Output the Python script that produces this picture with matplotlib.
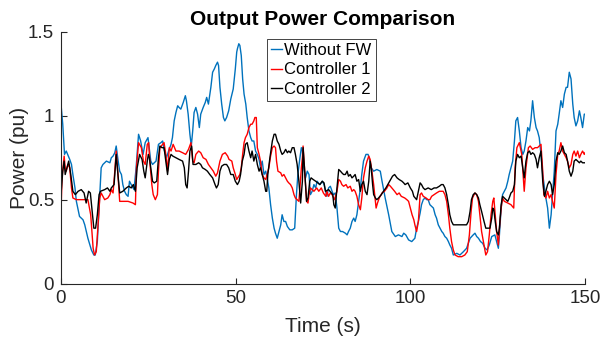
import matplotlib
matplotlib.use("Agg")
import matplotlib.pyplot as plt

# ---------------- data ----------------
t_blue = [0, 0.5, 1.0, 1.5, 2.5, 3.0, 3.4, 4.0, 4.4, 4.9, 5.3, 6.3, 6.8, 7.7, 8.7, 9.4, 9.8, 10.4, 11.1, 11.5,
          12.0, 13.0, 14.0, 14.4, 14.9, 15.4, 15.8, 16.3, 16.8, 17.3, 17.7, 18.2, 18.7, 19.2, 19.6, 20.1, 20.9,
          21.5, 22.2, 22.8, 23.5, 24.1, 24.9, 25.7, 26.2, 27.2, 27.9, 28.6, 29.1, 29.5, 30.2, 30.8, 31.5, 31.9,
          32.4, 32.9, 33.4, 33.8, 34.3, 35.0, 35.6, 35.9, 36.4, 36.9, 37.3, 37.7, 38.1, 38.6, 39.1, 39.6, 40.0,
          40.7, 41.3, 41.7, 42.2, 42.9, 43.4, 43.9, 44.3, 44.8, 45.1, 45.5, 46.0, 46.5, 46.9, 47.4, 48.0, 48.6,
          49.3, 49.9, 50.3, 50.5, 50.9, 51.2, 51.6, 52.0, 52.4, 52.9, 53.3, 53.8, 54.3, 54.7, 55.2, 55.7, 56.2,
          56.7, 57.1, 57.6, 58.1, 58.6, 59.0, 59.5, 60.0, 60.5, 61.0, 61.4, 61.9, 62.4, 62.9, 63.3, 63.8, 64.3,
          64.8, 65.5, 66.2, 66.9, 67.1, 67.4, 67.8, 68.4, 68.8, 69.1, 69.5, 70.0, 70.5, 71.0, 71.4, 71.9, 72.4,
          72.9, 73.3, 74.1, 74.8, 75.3, 76.1, 76.6, 77.1, 77.6, 78.0, 78.5, 79.0, 79.5, 80.0, 80.6, 81.4, 81.9,
          82.3, 82.8, 83.3, 83.8, 84.2, 84.7, 85.2, 85.7, 86.1, 86.6, 87.3, 87.9, 88.2, 88.8, 89.5, 90.4, 91.4,
          91.9, 92.8, 93.8, 94.7, 95.7, 96.6, 97.6, 98.1, 98.7, 99.5, 100.4, 101.3, 101.8, 102.3, 102.8, 103.2,
          103.7, 104.2, 104.7, 105.1, 105.6, 106.1, 106.6, 107.1, 107.5, 108.0, 108.5, 109.0, 109.4, 109.9,
          110.4, 110.9, 111.3, 111.8, 112.3, 113.3, 114.2, 115.2, 116.1, 116.6, 117.1, 118.0, 118.5, 119.0,
          119.5, 120.1, 120.7, 121.4, 122.0, 122.6, 123.3, 124.2, 124.7, 125.2, 125.5, 126.0, 126.4, 126.9,
          127.4, 127.9, 128.3, 128.8, 129.3, 129.8, 130.2, 130.7, 131.2, 131.7, 132.2, 132.6, 133.1, 133.6,
          134.1, 134.5, 135.0, 135.5, 136.0, 136.4, 136.9, 137.4, 137.9, 138.4, 138.8, 139.3, 139.8, 140.3,
          140.7, 141.2, 141.7, 142.2, 142.6, 143.1, 143.6, 144.1, 144.6, 145.0, 145.5, 146.0, 146.5, 146.9,
          147.4, 147.9, 148.4, 148.8, 149.3, 149.8, 150.0]
p_blue = [1.07, 0.95, 0.77, 0.79, 0.74, 0.71, 0.65, 0.57, 0.49, 0.44, 0.40, 0.38, 0.35, 0.27, 0.20, 0.17, 0.17,
          0.25, 0.53, 0.69, 0.71, 0.73, 0.72, 0.75, 0.76, 0.78, 0.82, 0.74, 0.67, 0.65, 0.59, 0.55, 0.53, 0.52,
          0.61, 0.59, 0.56, 0.69, 0.89, 0.85, 0.77, 0.84, 0.87, 0.73, 0.71, 0.73, 0.83, 0.84, 0.85, 0.80, 0.75,
          0.79, 0.83, 0.87, 0.97, 1.02, 1.06, 1.05, 1.04, 1.08, 1.12, 1.09, 1.01, 0.89, 0.82, 0.91, 1.02, 1.05,
          1.01, 0.93, 1.01, 1.05, 1.08, 1.11, 1.07, 1.17, 1.26, 1.28, 1.30, 1.32, 1.30, 1.17, 1.07, 0.99, 0.97,
          0.99, 1.03, 1.10, 1.16, 1.28, 1.38, 1.40, 1.43, 1.42, 1.36, 1.22, 1.13, 1.07, 0.99, 0.91, 0.87, 0.85,
          0.85, 0.79, 0.77, 0.74, 0.69, 0.73, 0.65, 0.67, 0.63, 0.57, 0.47, 0.39, 0.33, 0.30, 0.27, 0.31, 0.35,
          0.41, 0.37, 0.37, 0.34, 0.32, 0.32, 0.33, 0.41, 0.53, 0.65, 0.75, 0.81, 0.79, 0.69, 0.63, 0.67, 0.65,
          0.53, 0.55, 0.59, 0.57, 0.61, 0.59, 0.61, 0.59, 0.52, 0.57, 0.58, 0.55, 0.53, 0.54, 0.45, 0.33, 0.31,
          0.31, 0.30, 0.29, 0.31, 0.33, 0.37, 0.39, 0.37, 0.41, 0.49, 0.57, 0.65, 0.73, 0.77, 0.77, 0.75, 0.69,
          0.67, 0.68, 0.67, 0.61, 0.51, 0.41, 0.31, 0.28, 0.29, 0.28, 0.30, 0.29, 0.26, 0.25, 0.27, 0.33, 0.37,
          0.42, 0.47, 0.50, 0.51, 0.50, 0.50, 0.47, 0.46, 0.45, 0.41, 0.39, 0.35, 0.33, 0.31, 0.30, 0.28, 0.27,
          0.25, 0.23, 0.21, 0.17, 0.18, 0.17, 0.19, 0.21, 0.24, 0.27, 0.29, 0.30, 0.28, 0.27, 0.25, 0.24, 0.21,
          0.20, 0.23, 0.28, 0.29, 0.25, 0.21, 0.29, 0.45, 0.53, 0.55, 0.57, 0.61, 0.65, 0.69, 0.73, 0.85, 0.97,
          0.99, 0.91, 0.81, 0.77, 0.79, 0.85, 0.93, 0.91, 0.97, 1.09, 0.99, 0.93, 0.91, 0.87, 0.77, 0.65, 0.57,
          0.51, 0.45, 0.33, 0.41, 0.53, 0.67, 0.91, 0.95, 1.01, 1.09, 1.05, 1.13, 1.17, 1.17, 1.26, 1.22, 1.07,
          0.99, 0.94, 0.97, 1.03, 0.99, 0.93, 1.01, 1.01]

t_red = [0, 0.3, 0.9, 1.2, 1.5, 2.0, 2.5, 3.0, 3.4, 4.4, 6.8, 7.7, 8.5, 9.2, 9.6, 10.1, 10.6, 11.1, 11.5, 12.5,
         13.4, 14.0, 14.4, 14.9, 15.4, 15.8, 16.3, 16.8, 17.7, 19.2, 20.6, 21.3, 21.6, 22.2, 23.0, 23.6, 24.1,
         24.7, 25.1, 25.4, 26.0, 26.4, 27.0, 27.6, 27.9, 28.3, 29.1, 29.5, 30.0, 30.5, 31.0, 31.5, 32.1, 32.9,
         33.8, 34.8, 35.7, 36.5, 37.2, 37.7, 38.1, 38.6, 39.4, 40.0, 40.7, 41.5, 42.2, 42.9, 43.6, 44.3, 44.8,
         45.5, 46.2, 47.0, 47.7, 48.1, 48.9, 49.3, 49.9, 50.3, 50.6, 51.2, 51.6, 52.0, 52.4, 52.8, 53.3, 53.8,
         54.3, 54.7, 55.2, 55.5, 55.9, 56.2, 56.7, 57.1, 57.6, 58.1, 58.6, 59.0, 59.5, 60.0, 60.5, 61.0, 61.4,
         61.7, 62.1, 62.9, 63.3, 63.8, 64.3, 64.8, 65.2, 65.7, 66.2, 66.7, 67.1, 67.6, 68.1, 68.4, 68.8, 69.1,
         69.3, 69.7, 70.3, 70.7, 71.0, 71.4, 71.9, 72.4, 73.2, 73.8, 74.5, 75.1, 75.8, 76.1, 76.6, 77.1, 77.6,
         78.3, 79.0, 79.5, 80.0, 80.4, 80.9, 81.6, 82.1, 82.8, 83.3, 83.8, 84.2, 84.7, 85.2, 85.7, 86.1, 86.6,
         87.1, 87.6, 88.1, 88.5, 89.0, 89.5, 90.0, 90.2, 90.6, 91.1, 91.9, 92.6, 93.3, 93.8, 94.3, 94.7, 95.5,
         96.2, 96.8, 97.4, 98.4, 99.0, 99.5, 100.0, 100.5, 101.0, 101.3, 101.8, 102.3, 102.8, 103.2, 103.7,
         104.5, 105.1, 105.6, 106.1, 106.8, 107.5, 108.3, 108.9, 109.4, 109.9, 110.4, 110.9, 111.3, 111.8,
         112.3, 112.8, 113.7, 114.7, 115.6, 116.3, 116.9, 117.4, 117.8, 118.5, 119.0, 119.5, 119.9, 120.4,
         121.1, 121.6, 122.1, 122.6, 123.1, 123.6, 123.9, 124.3, 124.7, 125.2, 125.5, 126.0, 126.4, 126.9,
         127.9, 128.8, 129.6, 130.0, 130.5, 131.2, 131.9, 132.6, 133.1, 133.8, 134.3, 135.0, 135.7, 136.4,
         136.9, 137.4, 137.9, 138.2, 138.8, 139.3, 139.8, 140.3, 140.7, 141.2, 141.7, 142.2, 142.6, 143.1,
         143.6, 144.1, 144.6, 145.0, 145.5, 146.0, 146.5, 146.9, 147.4, 147.9, 148.4, 148.8, 149.3, 149.8,
         150.0]
p_red = [0.43, 0.63, 0.76, 0.69, 0.67, 0.71, 0.69, 0.57, 0.51, 0.50, 0.50, 0.50, 0.41, 0.21, 0.17, 0.19, 0.35,
         0.51, 0.54, 0.50, 0.51, 0.53, 0.56, 0.54, 0.67, 0.79, 0.65, 0.49, 0.49, 0.49, 0.48, 0.47, 0.69, 0.84,
         0.81, 0.73, 0.71, 0.83, 0.84, 0.73, 0.59, 0.53, 0.50, 0.53, 0.67, 0.81, 0.83, 0.84, 0.77, 0.67, 0.81,
         0.79, 0.83, 0.79, 0.79, 0.78, 0.77, 0.80, 0.84, 0.73, 0.72, 0.77, 0.79, 0.78, 0.75, 0.74, 0.71, 0.69,
         0.67, 0.64, 0.66, 0.73, 0.77, 0.78, 0.76, 0.74, 0.73, 0.69, 0.65, 0.62, 0.63, 0.65, 0.69, 0.77, 0.84,
         0.87, 0.89, 0.93, 0.95, 0.95, 0.97, 0.99, 0.99, 0.81, 0.77, 0.73, 0.65, 0.63, 0.62, 0.65, 0.69, 0.76,
         0.81, 0.82, 0.81, 0.73, 0.67, 0.66, 0.64, 0.65, 0.63, 0.61, 0.60, 0.59, 0.57, 0.53, 0.51, 0.50, 0.49,
         0.57, 0.69, 0.75, 0.82, 0.69, 0.49, 0.48, 0.53, 0.57, 0.56, 0.55, 0.57, 0.55, 0.57, 0.54, 0.52, 0.55,
         0.52, 0.54, 0.53, 0.50, 0.55, 0.62, 0.61, 0.59, 0.58, 0.59, 0.57, 0.58, 0.55, 0.56, 0.55, 0.52, 0.47,
         0.44, 0.51, 0.63, 0.69, 0.73, 0.76, 0.74, 0.67, 0.59, 0.49, 0.45, 0.48, 0.51, 0.54, 0.55, 0.57, 0.59,
         0.58, 0.57, 0.55, 0.53, 0.54, 0.52, 0.51, 0.50, 0.49, 0.45, 0.41, 0.38, 0.35, 0.31, 0.37, 0.53, 0.54,
         0.52, 0.51, 0.50, 0.50, 0.52, 0.53, 0.54, 0.55, 0.55, 0.55, 0.53, 0.49, 0.41, 0.33, 0.25, 0.20, 0.17,
         0.16, 0.16, 0.17, 0.19, 0.29, 0.43, 0.51, 0.54, 0.53, 0.49, 0.41, 0.31, 0.23, 0.17, 0.19, 0.29, 0.41,
         0.49, 0.51, 0.41, 0.31, 0.23, 0.33, 0.45, 0.51, 0.49, 0.48, 0.47, 0.45, 0.69, 0.81, 0.84, 0.77, 0.55,
         0.69, 0.81, 0.82, 0.80, 0.81, 0.81, 0.82, 0.83, 0.67, 0.53, 0.51, 0.55, 0.51, 0.53, 0.49, 0.45, 0.65,
         0.77, 0.79, 0.84, 0.79, 0.77, 0.75, 0.73, 0.69, 0.71, 0.77, 0.79, 0.76, 0.79, 0.75, 0.77, 0.79, 0.77,
         0.78]

t_black = [0, 0.5, 0.9, 1.2, 1.7, 2.2, 2.8, 3.4, 4.1, 4.9, 5.8, 6.6, 7.2, 7.9, 8.4, 9.0, 9.4, 9.9, 10.4, 10.9,
           11.3, 12.5, 13.3, 14.0, 14.4, 15.2, 15.8, 16.3, 16.8, 17.7, 18.7, 19.4, 20.1, 20.7, 21.3, 21.8, 22.5,
           23.2, 23.7, 24.1, 24.7, 25.0, 25.3, 25.7, 26.2, 26.7, 27.4, 27.9, 28.3, 28.9, 29.5, 30.0, 30.5, 31.0,
           31.5, 32.0, 32.9, 33.8, 34.8, 35.3, 35.7, 36.1, 36.5, 36.9, 37.4, 37.8, 38.6, 39.4, 40.0, 40.5, 41.3,
           41.9, 42.6, 43.4, 44.1, 44.5, 45.0, 45.5, 46.0, 46.7, 47.4, 48.0, 48.6, 49.3, 49.9, 50.5, 51.0, 51.4,
           51.9, 52.4, 52.8, 53.3, 53.8, 54.3, 54.7, 55.2, 55.7, 56.2, 56.7, 57.1, 57.6, 58.1, 58.6, 58.9, 59.2,
           59.8, 60.5, 61.0, 61.4, 61.9, 62.4, 62.9, 63.3, 63.8, 64.3, 64.8, 65.2, 65.7, 66.2, 66.7, 67.1, 67.6,
           68.1, 68.6, 69.1, 69.3, 69.7, 70.3, 70.7, 71.2, 71.6, 72.2, 72.9, 73.5, 74.1, 74.8, 75.3, 75.7, 76.6,
           77.4, 77.8, 78.1, 78.5, 79.0, 79.5, 80.0, 80.4, 80.9, 81.4, 81.9, 82.3, 82.8, 83.3, 83.8, 84.2, 84.7,
           85.2, 85.7, 86.1, 86.6, 87.1, 87.6, 88.1, 88.5, 88.8, 89.2, 89.5, 90.0, 90.4, 90.9, 91.7, 92.3, 93.0,
           93.8, 94.3, 94.9, 95.5, 96.2, 96.8, 97.6, 98.1, 98.5, 99.3, 100.0, 100.6, 101.0, 101.8, 102.3, 102.8,
           103.2, 103.7, 104.2, 105.1, 106.0, 106.8, 107.5, 108.3, 108.9, 109.4, 109.9, 110.4, 110.9, 111.3,
           111.8, 112.3, 113.3, 114.2, 115.2, 116.1, 116.6, 117.1, 117.5, 118.0, 118.5, 119.0, 119.5, 119.9,
           120.4, 121.1, 121.6, 122.3, 122.8, 123.3, 123.6, 123.9, 124.3, 124.7, 125.2, 125.5, 126.0, 126.4,
           126.9, 127.4, 127.9, 128.3, 128.8, 129.3, 129.8, 130.2, 130.7, 131.2, 131.7, 132.2, 132.6, 133.1,
           133.6, 134.1, 134.5, 135.0, 135.5, 136.0, 136.4, 136.9, 137.4, 137.9, 138.4, 138.8, 139.3, 139.8,
           140.3, 140.7, 141.2, 141.7, 142.2, 142.6, 143.1, 143.6, 144.1, 144.6, 145.0, 145.5, 146.0, 146.5,
           146.9, 147.4, 147.9, 148.4, 148.8, 149.3, 149.8, 150.0]
p_black = [0.53, 0.67, 0.73, 0.65, 0.69, 0.73, 0.65, 0.55, 0.53, 0.55, 0.56, 0.54, 0.48, 0.55, 0.54, 0.41, 0.33,
           0.33, 0.41, 0.53, 0.55, 0.56, 0.57, 0.55, 0.57, 0.59, 0.77, 0.65, 0.54, 0.55, 0.57, 0.58, 0.57, 0.59,
           0.55, 0.69, 0.77, 0.74, 0.67, 0.63, 0.73, 0.77, 0.75, 0.69, 0.61, 0.60, 0.61, 0.75, 0.82, 0.81, 0.81,
           0.73, 0.65, 0.74, 0.77, 0.76, 0.75, 0.74, 0.73, 0.69, 0.59, 0.57, 0.67, 0.79, 0.82, 0.71, 0.71, 0.72,
           0.71, 0.69, 0.68, 0.67, 0.65, 0.63, 0.59, 0.57, 0.59, 0.67, 0.70, 0.71, 0.71, 0.69, 0.65, 0.65, 0.61,
           0.59, 0.61, 0.65, 0.73, 0.77, 0.83, 0.84, 0.79, 0.75, 0.79, 0.73, 0.77, 0.71, 0.67, 0.69, 0.65, 0.61,
           0.55, 0.55, 0.65, 0.75, 0.85, 0.89, 0.89, 0.85, 0.83, 0.79, 0.77, 0.78, 0.80, 0.78, 0.79, 0.78, 0.81,
           0.81, 0.77, 0.71, 0.61, 0.48, 0.61, 0.81, 0.69, 0.49, 0.51, 0.61, 0.63, 0.62, 0.61, 0.60, 0.59, 0.61,
           0.60, 0.55, 0.56, 0.54, 0.53, 0.47, 0.45, 0.57, 0.68, 0.67, 0.66, 0.65, 0.65, 0.67, 0.64, 0.65, 0.63,
           0.64, 0.65, 0.61, 0.62, 0.55, 0.59, 0.61, 0.55, 0.53, 0.61, 0.73, 0.69, 0.59, 0.53, 0.51, 0.50, 0.51,
           0.53, 0.55, 0.57, 0.60, 0.62, 0.64, 0.65, 0.63, 0.62, 0.61, 0.60, 0.59, 0.60, 0.57, 0.55, 0.52, 0.50,
           0.55, 0.60, 0.59, 0.57, 0.56, 0.57, 0.56, 0.57, 0.57, 0.58, 0.59, 0.59, 0.57, 0.53, 0.47, 0.41, 0.37,
           0.35, 0.35, 0.35, 0.35, 0.35, 0.37, 0.43, 0.50, 0.53, 0.54, 0.53, 0.51, 0.47, 0.43, 0.37, 0.33, 0.33,
           0.33, 0.39, 0.45, 0.44, 0.37, 0.31, 0.29, 0.33, 0.47, 0.52, 0.51, 0.50, 0.49, 0.51, 0.54, 0.55, 0.59,
           0.73, 0.77, 0.75, 0.76, 0.69, 0.63, 0.73, 0.78, 0.79, 0.77, 0.78, 0.77, 0.74, 0.69, 0.75, 0.79, 0.61,
           0.52, 0.55, 0.59, 0.61, 0.59, 0.53, 0.59, 0.73, 0.78, 0.77, 0.79, 0.82, 0.78, 0.77, 0.73, 0.67, 0.64,
           0.67, 0.73, 0.74, 0.73, 0.72, 0.73, 0.72, 0.72, 0.72]

labels = ["Without FW", "Controller 1", "Controller 2"]
x_ticks = [0, 50, 100, 150]
y_ticks = [0, 0.5, 1, 1.5]
y_ticklabels = ["0", "0.5", "1", "1.5"]

# ---------------- style ----------------
plt.rcParams["font.family"] = ["Liberation Sans", "DejaVu Sans"]
axc = "#262626"

fig = plt.figure(figsize=(6.01, 3.47), dpi=100)
ax = fig.add_axes([61 / 601, 1 - 283.5 / 347, 524 / 601, 251.5 / 347])

ax.plot(t_blue, p_blue, color="#0072BD", lw=1.0, label=labels[0])
ax.plot(t_red, p_red, color="#FF0000", lw=1.0, label=labels[1])
ax.plot(t_black, p_black, color="#000000", lw=1.0, label=labels[2])

ax.set_xlim(0, 150)
ax.set_ylim(0, 1.5)
ax.set_xticks(x_ticks)
ax.set_yticks(y_ticks)
ax.set_yticklabels(y_ticklabels)

for s in ["top", "right"]:
    ax.spines[s].set_visible(False)
for s in ["left", "bottom"]:
    ax.spines[s].set_color(axc)
    ax.spines[s].set_linewidth(0.8)

ax.tick_params(direction="in", length=4, width=0.8, colors=axc, labelsize=13.5, pad=5)

ax.set_xlabel("Time (s)", fontsize=15, color=axc, labelpad=7)
ax.set_ylabel("Power (pu)", fontsize=15, color=axc, labelpad=-1)
ax.set_title("Output Power Comparison", fontsize=15, fontweight="bold", color="black", pad=5)

leg = ax.legend(loc="upper left", bbox_to_anchor=((267 - 61) / 524, (283.5 - 39) / 251.5),
                borderaxespad=0, fontsize=12, frameon=True, fancybox=False, framealpha=1,
                edgecolor=axc, handlelength=0.65, handletextpad=0.15, labelspacing=0.25,
                borderpad=0.25)
leg.get_frame().set_linewidth(0.6)

fig.savefig("out.png", dpi=100)
